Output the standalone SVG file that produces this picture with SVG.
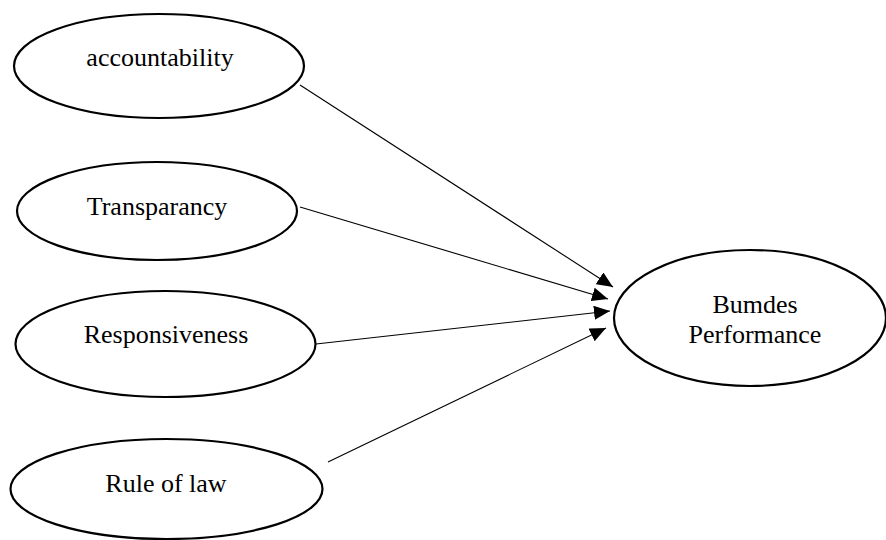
<svg xmlns="http://www.w3.org/2000/svg" width="886" height="540" viewBox="0 0 886 540">
<style>
.node ellipse{fill:#fff;stroke:#000;stroke-width:2.2}
.node text{font-family:"Liberation Serif","Times New Roman",serif;font-size:26px;fill:#000;text-anchor:middle}
.edges line{stroke:#000;stroke-width:1.1;marker-end:url(#ah)}
</style>
<defs>
<marker id="ah" markerUnits="userSpaceOnUse" markerWidth="17" markerHeight="14" refX="16" refY="7" orient="auto">
<path d="M0,0 L16,7 L0,14 Z" fill="#000"/>
</marker>
</defs>
<rect width="886" height="540" fill="#fff"/>
<g class="edges">
<line x1="300" y1="85" x2="613" y2="287"/>
<line x1="300" y1="207" x2="608" y2="299"/>
<line x1="316" y1="344" x2="610" y2="311"/>
<line x1="328" y1="462" x2="606" y2="328"/>
</g>
<g id="accountability" class="node">
<ellipse cx="159" cy="66" rx="145" ry="52"/>
<text x="160" y="66">accountability</text>
</g>
<g id="transparancy" class="node">
<ellipse cx="157" cy="211" rx="140" ry="49"/>
<text x="157" y="215">Transparancy</text>
</g>
<g id="responsiveness" class="node">
<ellipse cx="165.5" cy="344" rx="150" ry="53"/>
<text x="166" y="343">Responsiveness</text>
</g>
<g id="ruleoflaw" class="node">
<ellipse cx="166.5" cy="489" rx="156" ry="50"/>
<text x="166" y="492">Rule of law</text>
</g>
<g id="bumdes" class="node">
<ellipse cx="750" cy="318" rx="136" ry="68"/>
<text x="755" y="313">Bumdes</text>
<text x="755" y="343">Performance</text>
</g>
</svg>
